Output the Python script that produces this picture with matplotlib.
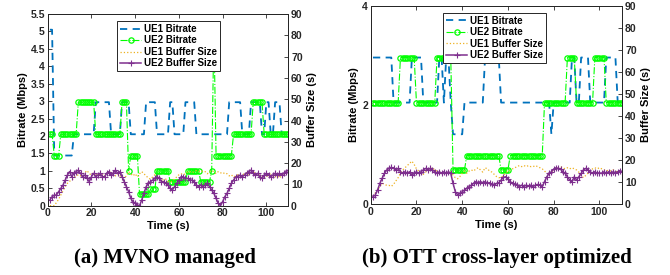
import numpy as np
import matplotlib
matplotlib.use('Agg')
import matplotlib.pyplot as plt
from matplotlib.ticker import FormatStrFormatter

# time axis, one sample per second
time_s = np.arange(1, 111)

# ---- (a) MVNO managed ----
ue1_rate_a = [5.05, 5.05, 1.44, 1.44, 1.44, 1.44, 1.44, 1.44, 1.44, 1.44,
              1.44, 2.05, 2.05, 2.05, 2.05, 2.05, 2.05, 2.05, 2.05, 2.05,
              2.05, 2.97, 2.97, 2.97, 2.97, 2.97, 2.97, 2.97, 2.05, 2.05,
              2.05, 2.05, 2.05, 2.97, 2.97, 2.97, 2.97, 2.05, 2.05, 2.05,
              2.05, 2.05, 2.05, 2.05, 2.97, 2.97, 2.97, 2.97, 2.97, 2.05,
              2.05, 2.05, 2.05, 2.05, 2.05, 2.97, 2.97, 2.05, 2.05, 2.05,
              2.05, 2.05, 2.97, 2.97, 2.97, 2.97, 2.97, 2.05, 2.05, 2.05,
              2.05, 2.05, 2.05, 2.05, 2.05, 2.05, 2.05, 2.05, 2.05, 2.05,
              2.05, 2.05, 2.97, 2.97, 2.97, 2.97, 2.97, 2.97, 2.05, 2.05,
              2.05, 2.05, 2.97, 2.97, 2.97, 2.97, 2.97, 2.05, 2.05, 2.97,
              2.97, 2.05, 2.05, 2.97, 2.97, 2.97, 2.05, 2.05, 2.05, 2.05]
ue2_rate_a = [2.05, 2.05, 1.44, 1.44, 1.44, 2.05, 2.05, 2.05, 2.05, 2.05,
              2.05, 2.05, 2.05, 2.97, 2.97, 2.97, 2.97, 2.97, 2.97, 2.97,
              2.97, 2.05, 2.05, 2.05, 2.05, 2.05, 2.05, 2.05, 2.05, 2.05,
              2.05, 2.05, 2.05, 2.97, 2.97, 2.97, 1.0, 1.44, 1.44, 1.44,
              1.44, 0.33, 0.33, 0.33, 0.33, 0.33, 0.47, 0.47, 0.47, 1.0,
              1.0, 1.0, 1.0, 1.0, 1.0, 0.69, 0.69, 0.69, 0.69, 0.69,
              0.69, 0.69, 0.69, 1.0, 1.0, 1.0, 1.0, 1.0, 1.0, 0.69,
              0.69, 0.69, 0.69, 0.69, 1.0, 5.05, 1.44, 1.44, 1.44, 1.44,
              1.44, 1.44, 1.44, 1.44, 2.05, 2.05, 2.05, 2.05, 2.05, 2.05,
              2.05, 2.05, 2.05, 2.97, 2.97, 2.97, 2.97, 2.97, 2.05, 2.05,
              2.05, 2.05, 2.05, 2.05, 2.05, 2.05, 2.05, 2.05, 2.05, 2.05]
ue1_buf_a = [0, 0, 0, 1.5, 3, 5, 7, 9, 10.5, 11.5,
             12, 13, 14, 14.5, 14, 15, 15.5, 16.5, 15, 14.5,
             15.5, 14, 15, 14.5, 15, 14, 15, 16, 15.5, 15,
             14, 15, 14, 13.5, 13, 14, 16, 15, 14, 15,
             13.5, 15, 16, 15, 14, 13, 12.5, 13.5, 14.5, 13.5,
             13, 12.5, 12, 12.5, 11.5, 11, 11.5, 12.5, 13.5, 14.5,
             15, 14.5, 15, 16, 16, 15.5, 16, 16.5, 16, 16.5,
             16, 16, 15, 16, 16.5, 16, 15, 16, 15.5, 15,
             15.5, 15, 14, 14.5, 13.5, 14, 14.5, 14, 14.5, 15,
             15.5, 14.5, 15, 16, 15, 14, 14.5, 14, 13, 13.5,
             14.5, 15, 14, 13.5, 14, 13, 14, 14.5, 15.5, 16]
ue2_buf_a = [2.7, 4.2, 5.0, 5.0, 6.6, 8.1, 9.7, 12.0, 14.4, 16.0,
             13.6, 15.2, 16.0, 16.7, 15.2, 13.6, 14.4, 12.8, 11.3, 13.6,
             15.2, 13.6, 14.4, 15.2, 13.6, 13.6, 15.2, 16.0, 14.4, 15.2,
             16.7, 15.2, 16.0, 13.6, 11.3, 8.9, 6.6, 3.4, 1.9, 1.1,
             0.3, 0.0, 2.7, 5.8, 8.9, 10.5, 11.3, 12.0, 12.8, 13.6,
             12.8, 11.3, 11.3, 10.5, 9.7, 8.1, 7.4, 8.9, 10.5, 12.0,
             13.6, 13.6, 12.8, 12.8, 12.0, 12.0, 11.3, 9.7, 8.9, 9.7,
             8.9, 9.7, 10.5, 8.9, 7.4, 5.8, 3.4, 1.1, 0.0, 1.9,
             4.2, 5.8, 8.1, 10.5, 12.0, 13.6, 13.6, 14.4, 13.6, 14.4,
             15.2, 16.0, 16.7, 15.2, 14.4, 15.2, 13.6, 12.8, 14.4, 15.2,
             14.4, 13.6, 14.4, 15.2, 14.4, 15.2, 14.4, 15.2, 16.0, 16.7]

# ---- (b) OTT cross-layer optimized ----
ue1_rate_b = [2.96, 2.96, 2.96, 2.96, 2.96, 2.96, 2.96, 2.96, 2.96, 2.05,
              2.05, 2.05, 2.05, 2.05, 2.05, 2.05, 2.05, 2.96, 2.96, 2.96,
              2.96, 2.96, 2.05, 2.05, 2.05, 2.05, 2.05, 2.05, 2.05, 2.96,
              2.96, 2.05, 2.96, 2.96, 2.05, 1.41, 1.41, 1.41, 1.41, 1.41,
              2.05, 2.05, 2.05, 2.05, 2.05, 2.05, 2.05, 2.05, 2.05, 2.96,
              2.96, 2.96, 2.96, 2.96, 2.96, 2.96, 2.05, 2.05, 2.05, 2.05,
              2.05, 2.05, 2.05, 2.05, 2.05, 2.05, 2.05, 2.05, 2.05, 2.05,
              2.05, 2.05, 2.05, 2.05, 2.05, 2.05, 2.05, 2.05, 1.41, 2.05,
              2.05, 2.05, 2.05, 2.05, 2.05, 2.05, 2.05, 2.96, 2.96, 2.05,
              2.05, 2.96, 2.96, 2.96, 2.96, 2.05, 2.05, 2.05, 2.05, 2.05,
              2.05, 2.05, 2.96, 2.96, 2.96, 2.96, 2.96, 2.05, 2.05, 2.05]
ue2_rate_b = [2.05, 2.05, 2.05, 2.05, 2.05, 2.05, 2.05, 2.05, 2.05, 2.05,
              2.05, 2.05, 2.96, 2.96, 2.96, 2.96, 2.96, 2.96, 2.96, 2.05,
              2.05, 2.05, 2.05, 2.05, 2.05, 2.05, 2.05, 2.05, 2.96, 2.96,
              2.96, 2.96, 2.96, 2.96, 2.96, 0.69, 0.69, 0.69, 0.69, 0.69,
              0.69, 0.98, 0.98, 0.98, 0.98, 0.98, 0.98, 0.98, 0.98, 0.98,
              0.98, 0.98, 0.98, 0.98, 0.98, 0.98, 0.69, 0.69, 0.69, 0.69,
              0.98, 0.98, 0.98, 0.98, 0.98, 0.98, 0.98, 0.98, 0.98, 0.98,
              0.98, 0.98, 0.98, 0.98, 0.98, 2.05, 2.05, 2.05, 2.05, 2.05,
              2.05, 2.05, 2.05, 2.05, 2.05, 2.96, 2.96, 2.96, 2.96, 2.05,
              2.05, 2.05, 2.05, 2.05, 2.05, 2.05, 2.05, 2.96, 2.96, 2.96,
              2.96, 2.96, 2.05, 2.05, 2.05, 2.05, 2.05, 2.05, 2.05, 2.05]
ue1_buf_b = [3.5, 5, 6.5, 8, 9.5, 9, 8.5, 8.5, 8, 9,
             10.5, 12, 14, 15.5, 16.5, 17.5, 18.5, 19.5, 18, 16,
             15, 14, 13.5, 14.5, 15.5, 16, 16.5, 15.5, 15, 14.5,
             14, 14.5, 14, 14.5, 15, 13, 12, 11.5, 12.5, 14,
             15, 14, 15, 15.5, 15, 16, 16.5, 15.5, 14.5, 16.5,
             16, 15, 14.5, 13.5, 12.5, 12, 12, 13, 14, 15,
             15.5, 16, 16.5, 17, 17.5, 17, 17.5, 17, 17.5, 17,
             17, 17.5, 17, 16.5, 16, 15, 14, 13.5, 14.5, 15.5,
             16, 16.5, 17, 16.5, 16, 16.5, 16, 16.5, 16, 15.5,
             14.5, 13, 12, 13, 14, 15, 16, 16.5, 16, 16.5,
             16, 15.5, 15, 15.5, 15, 15.5, 15, 14.5, 15, 15]
ue2_buf_b = [3.3, 4.1, 6.4, 9.4, 11.7, 13.9, 15.5, 16.2, 16.7, 16.2,
             15.5, 16.2, 14.7, 13.9, 14.7, 13.9, 14.7, 13.2, 13.9, 14.7,
             13.9, 14.7, 15.5, 16.2, 15.5, 16.2, 15.5, 14.7, 13.9, 14.7,
             13.9, 14.7, 13.9, 14.7, 13.9, 9.4, 5.6, 4.1, 4.8, 5.6,
             6.4, 7.1, 7.9, 8.6, 9.4, 10.2, 9.7, 10.2, 9.7, 10.2,
             9.4, 9.7, 8.9, 8.6, 9.4, 9.7, 10.9, 12.1, 12.4, 11.2,
             10.2, 9.4, 8.9, 8.6, 7.9, 8.6, 7.9, 8.6, 8.2, 8.6,
             7.9, 8.6, 8.9, 8.6, 7.9, 10.2, 12.4, 13.9, 14.7, 15.8,
             16.5, 16.2, 15.8, 14.7, 13.9, 12.4, 10.9, 10.2, 12.4, 10.9,
             12.4, 13.9, 15.5, 16.2, 15.5, 14.7, 13.9, 14.7, 13.9, 14.2,
             13.9, 14.7, 13.9, 14.7, 13.9, 14.7, 14.2, 14.7, 15.2, 14.7]

labels = ['UE1 Bitrate', 'UE2 Bitrate', 'UE1 Buffer Size', 'UE2 Buffer Size']
captions = ['(a) MVNO managed', '(b) OTT cross-layer optimized']

c_blue = '#0072BD'
c_green = '#00FF00'
c_orange = '#EDB120'
c_purple = '#7E2F8E'
axc = '#262626'

plt.rcParams['font.family'] = 'Liberation Sans'
plt.rcParams['font.weight'] = 'bold'
plt.rcParams['font.size'] = 7.5


def draw_panel(fig, rect, r1, r2, b1, b2, ylim, yticks, legpos):
    ax = fig.add_axes(rect)
    ax2 = ax.twinx()
    l1, = ax.plot(time_s, r1, '--', color=c_blue, lw=1.3, dashes=(4, 3))
    l2, = ax.plot(time_s, r2, '-.', color=c_green, lw=0.8, marker='o', ms=3.8,
                  mfc='none', mew=0.9)
    l3, = ax2.plot(time_s, b1, ':', color=c_orange, lw=0.9)
    l4, = ax2.plot(time_s, b2, '-', color=c_purple, lw=1.1, marker='+', ms=4, mew=0.8)

    ax.set_xlim(0, 110)
    ax.set_xticks([0, 20, 40, 60, 80, 100])
    ax.set_ylim(*ylim)
    ax.set_yticks(yticks)
    ax.yaxis.set_major_formatter(FormatStrFormatter('%g'))
    ax2.set_ylim(0, 90)
    ax2.set_yticks(np.arange(0, 91, 10))

    ax.tick_params(direction='in', length=3, width=0.6, colors=axc, top=True, right=False, pad=2)
    ax2.tick_params(direction='in', length=3, width=0.6, colors=axc, pad=2)
    for a in (ax, ax2):
        for s in a.spines.values():
            s.set_color(axc)
            s.set_linewidth(0.7)
        plt.setp(a.get_xticklabels() + a.get_yticklabels(), fontweight='bold')

    ax.set_xlabel('Time (s)', fontsize=8, fontweight='bold', labelpad=2)
    ax.set_ylabel('Bitrate (Mbps)', fontsize=8, fontweight='bold', labelpad=2)
    ax2.set_ylabel('Buffer Size (s)', fontsize=8, fontweight='bold', labelpad=3)

    leg = ax2.legend([l1, l2, l3, l4], labels, loc='upper left', bbox_to_anchor=legpos,
                     fancybox=False, framealpha=1, edgecolor='#262626',
                     prop={'family': 'Liberation Sans', 'weight': 'bold', 'size': 7},
                     handlelength=2.2, handletextpad=0.3, borderpad=0.3,
                     labelspacing=0.15, borderaxespad=0)
    leg.get_frame().set_linewidth(0.7)
    return ax, ax2


fig = plt.figure(figsize=(6.7, 2.75), dpi=100)

draw_panel(fig, [0.0712, 0.252, 0.359, 0.697], ue1_rate_a, ue2_rate_a, ue1_buf_a, ue2_buf_a,
           (0, 5.5), np.arange(0, 5.51, 0.5), (0.288, 0.963))
draw_panel(fig, [0.5533, 0.258, 0.3755, 0.72], ue1_rate_b, ue2_rate_b, ue1_buf_b, ue2_buf_b,
           (0, 4), [0, 2, 4], (0.287, 0.965))

fig.text(165 / 670, 1 - 258 / 275, captions[0], ha='center', va='center',
         family='Liberation Serif', fontweight='bold', fontsize=15)
fig.text(497 / 670, 1 - 258 / 275, captions[1], ha='center', va='center',
         family='Liberation Serif', fontweight='bold', fontsize=15)

fig.savefig('out.png', dpi=100)
